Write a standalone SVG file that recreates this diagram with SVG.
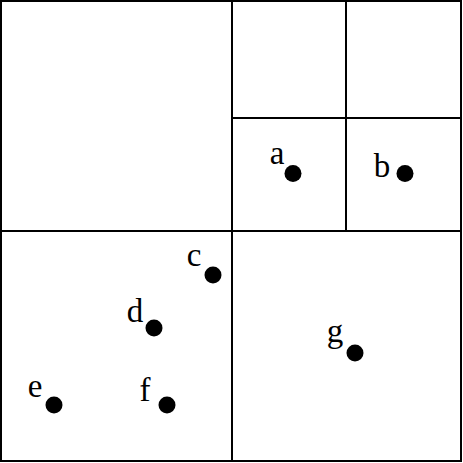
<svg xmlns="http://www.w3.org/2000/svg" width="463" height="463" viewBox="0 0 463 463">
<style>
.ln{stroke:#000;stroke-width:2;fill:none}
.pt{fill:#000}
.lb{font-family:"Liberation Serif","Times New Roman",serif;font-size:33px;fill:#000;text-anchor:middle}
</style>
<rect width="463" height="463" fill="#fff"/>
<g id="connectors">
<rect class="ln" x="1" y="1" width="460" height="460"/>
<line class="ln" x1="232" y1="1" x2="232" y2="461"/>
<line class="ln" x1="1" y1="231" x2="461" y2="231"/>
<line class="ln" x1="232" y1="118" x2="461" y2="118"/>
<line class="ln" x1="346" y1="1" x2="346" y2="231"/>
</g>
<g id="a"><circle class="pt" cx="293" cy="173.5" r="8.5"/><text class="lb" x="277" y="164">a</text></g>
<g id="b"><circle class="pt" cx="405" cy="173.5" r="8.5"/><text class="lb" x="382" y="177">b</text></g>
<g id="c"><circle class="pt" cx="213" cy="275" r="8.5"/><text class="lb" x="194" y="266">c</text></g>
<g id="d"><circle class="pt" cx="154" cy="328" r="8.5"/><text class="lb" x="135" y="322">d</text></g>
<g id="e"><circle class="pt" cx="54" cy="405" r="8.5"/><text class="lb" x="35" y="397">e</text></g>
<g id="f"><circle class="pt" cx="167" cy="405" r="8.5"/><text class="lb" x="145" y="401">f</text></g>
<g id="g"><circle class="pt" cx="355" cy="353" r="8.5"/><text class="lb" x="335" y="342">g</text></g>
</svg>
